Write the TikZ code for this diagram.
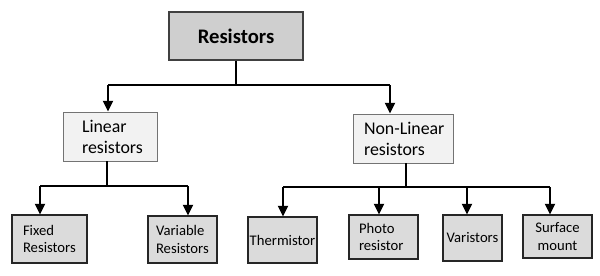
\documentclass[tikz,border=0pt]{standalone}
\usepackage{fontspec}
\setmainfont{Carlito}
\usetikzlibrary{arrows.meta}
\begin{document}
\begin{tikzpicture}[x=0.75pt,y=-0.75pt,
  topbox/.style={draw=black!75,line width=0.8pt,fill=black!19,minimum width=100.5pt,minimum height=36pt,font=\fontsize{15.5}{17}\selectfont\bfseries,inner sep=0pt},
  midbox/.style={draw=black!55,line width=0.7pt,fill=black!5,font=\fontsize{13.4}{15.8}\selectfont,align=left,inner ysep=0pt},
  leafbox/.style={draw=black!85,line width=0.8pt,fill=black!14,font=\fontsize{11}{13}\selectfont,align=left,inner ysep=0pt},
  conn/.style={line width=1.5pt,black},
  arr/.style={conn,-{Triangle[length=8pt,width=7.5pt]}}]
\useasboundingbox (0,0) rectangle (600,275);
% top
\node[topbox] (res) at (236,36) {Resistors};
% middle
\node[midbox,minimum width=70.5pt,minimum height=36.75pt,inner xsep=14.25pt,text width=42pt] (lin) at (110,136.5) {Linear\\resistors};
\node[midbox,minimum width=75pt,minimum height=36.75pt,inner xsep=8.25pt,text width=58.5pt] (nonlin) at (403,138.5) {\mbox{Non-Linear}\\resistors};
% leaves
\node[leafbox,minimum width=56.25pt,minimum height=36pt,inner xsep=8.25pt,text width=39.75pt] (fixed) at (49.5,239) {Fixed\\Resistors};
\node[leafbox,minimum width=51.75pt,minimum height=35.25pt,inner xsep=6pt,text width=39.75pt] (var) at (182.5,239.5) {Variable\\Resistors};
\node[leafbox,minimum width=51.75pt,minimum height=34.5pt,inner xsep=0pt,align=center] (therm) at (282.5,240) {Thermistor};
\node[leafbox,minimum width=51.75pt,minimum height=33pt,inner xsep=7.5pt,text width=36.75pt] (photo) at (383.5,237) {Photo\\resistor};
\node[leafbox,minimum width=44.25pt,minimum height=34.5pt,inner xsep=0pt,align=center] (vari) at (472.5,238) {Varistors};
\node[leafbox,minimum width=51.75pt,minimum height=32.25pt,inner xsep=0pt,align=center] (surf) at (557.5,236.5) {Surface\\mount};
% buses
\coordinate (b0) at (236,85);
\coordinate (bL) at (108,85);
\coordinate (bR) at (390,85);
\coordinate (b1) at (107,186);
\coordinate (b1L) at (40,186);
\coordinate (b1R) at (188,186);
\coordinate (b2) at (406,187);
\coordinate (t1) at (283,187);
\coordinate (t2) at (379,187);
\coordinate (t3) at (467,187);
\coordinate (t4) at (550,187);
\draw[conn] (res.south -| b0) -- (b0);
\draw[conn] (bL) -- (bR);
\draw[arr] (bL) -- (bL |- lin.north);
\draw[arr] (bR) -- (bR |- nonlin.north);
\draw[conn] (lin.south -| b1) -- (b1);
\draw[conn] (b1L) -- (b1R);
\draw[arr] (b1L) -- (b1L |- fixed.north);
\draw[arr] (b1R) -- (b1R |- var.north);
\draw[conn] (nonlin.south -| b2) -- (b2);
\draw[conn] (t1) -- (t4);
\draw[arr] (t1) -- (t1 |- therm.north);
\draw[arr] (t2) -- (t2 |- photo.north);
\draw[arr] (t3) -- (t3 |- vari.north);
\draw[arr] (t4) -- (t4 |- surf.north);
\end{tikzpicture}
\end{document}
